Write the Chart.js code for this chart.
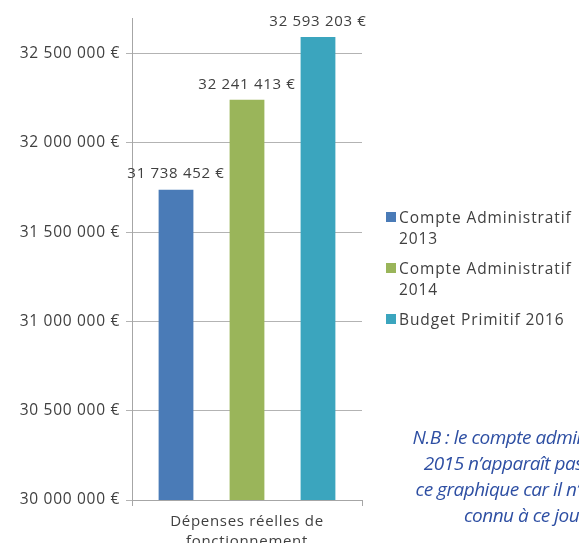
<!DOCTYPE html>
<html>
<head>
<meta charset="utf-8">
<script src="https://cdn.jsdelivr.net/npm/chart.js@4"></script>
<style>
  html, body { margin: 0; padding: 0; background: #fff; overflow: hidden; }
  #wrap { position: relative; width: 579px; height: 543px; }
  #legend { position: absolute; left: 386px; top: 207px; font-family: 'Open Sans', sans-serif; font-size: 15.5px; letter-spacing: 0.9px; color: #404040; }
  #legend .item { position: relative; padding-left: 13px; line-height: 21px; margin-bottom: 9px; white-space: nowrap; }
  #legend .box { position: absolute; left: 0; top: 5px; width: 10px; height: 10px; }
  #note { position: absolute; left: 325px; width: 400px; top: 424px; text-align: center; font-family: 'Open Sans', sans-serif; font-style: italic; font-size: 19px; line-height: 26px; color: #2e4fa3; white-space: nowrap; letter-spacing: -0.5px; }
</style>
</head>
<body>
<div id="wrap">
  <canvas id="chart" width="579" height="543"></canvas>
  <div id="legend"></div>
  <div id="note">N.B : le compte administratif<br>2015 n’apparaît pas dans<br>ce graphique car il n’est pas<br>connu à ce jour</div>
</div>
<script>
// Data
const categories = [['Dépenses réelles de', 'fonctionnement']];
const seriesNames = [['Compte Administratif', '2013'], ['Compte Administratif', '2014'], ['Budget Primitif 2016']];
const seriesValues = [[31738452], [32241413], [32593203]];
const seriesColors = ['#4a7bb7', '#9ab55a', '#3ba5be'];
const tickValues = [30000000, 30500000, 31000000, 31500000, 32000000, 32500000];

// Format a number with spaces between thousands and a euro sign
function euro(v) {
    return String(Math.round(v)).replace(/\B(?=(\d{3})+(?!\d))/g, ' ') + ' €';
}

// Slightly spaced lettering, like the original
const spacing = {
    id: 'spacing',
    beforeDraw(chart) {
        chart.ctx.letterSpacing = '0.7px';
    }
};

// Draw the value above each bar
const barLabels = {
    id: 'barLabels',
    afterDatasetsDraw(chart) {
        const ctx = chart.ctx;
        ctx.save();
        ctx.font = '15px "Open Sans", sans-serif';
        ctx.fillStyle = '#404040';
        ctx.textAlign = 'center';
        ctx.textBaseline = 'bottom';
        chart.data.datasets.forEach((ds, i) => {
            chart.getDatasetMeta(i).data.forEach((bar, j) => {
                ctx.fillText(euro(ds.data[j]), bar.x, bar.y - 8);
            });
        });
        ctx.restore();
    }
};

const chart = new Chart(document.getElementById('chart'), {
    type: 'bar',
    data: {
        labels: categories,
        datasets: seriesNames.map((name, i) => ({
            label: name.join(' '),
            data: seriesValues[i],
            backgroundColor: seriesColors[i],
            categoryPercentage: 0.926,
            barPercentage: 0.49,
        })),
    },
    options: {
        responsive: false,
        animation: false,
        layout: { padding: { top: 18, right: 217, left: 0, bottom: 0 } },
        plugins: { legend: { display: false }, tooltip: { enabled: false } },
        scales: {
            x: {
                grid: { drawOnChartArea: false, color: '#a6a6a6', tickLength: 6 },
                border: { color: '#a6a6a6' },
                ticks: { color: '#404040', font: { family: 'Open Sans', size: 15, lineHeight: 1.3 }, padding: 6 },
                afterFit(scale) { scale.height = 43; },
            },
            y: {
                min: 30000000,
                max: 32700000,
                grid: { color: '#b3b3b3', tickLength: 6 },
                border: { color: '#a6a6a6' },
                ticks: {
                    stepSize: 500000,
                    color: '#404040',
                    padding: 6,
                    font: { family: 'Open Sans', size: 15.5 },
                    callback: v => euro(v),
                },
                afterBuildTicks(scale) {
                    scale.ticks = tickValues.map(v => ({ value: v }));
                },
                afterFit(scale) { scale.width = 132; },
            },
        },
    },
    plugins: [spacing, barLabels],
});

// HTML legend so the long names wrap like the original
const legend = document.getElementById('legend');
seriesNames.forEach((name, i) => {
    const item = document.createElement('div');
    item.className = 'item';
    item.innerHTML = `<span class="box" style="background:${seriesColors[i]}"></span>${name.join('<br>')}`;
    legend.appendChild(item);
});
</script>
</body>
</html>
